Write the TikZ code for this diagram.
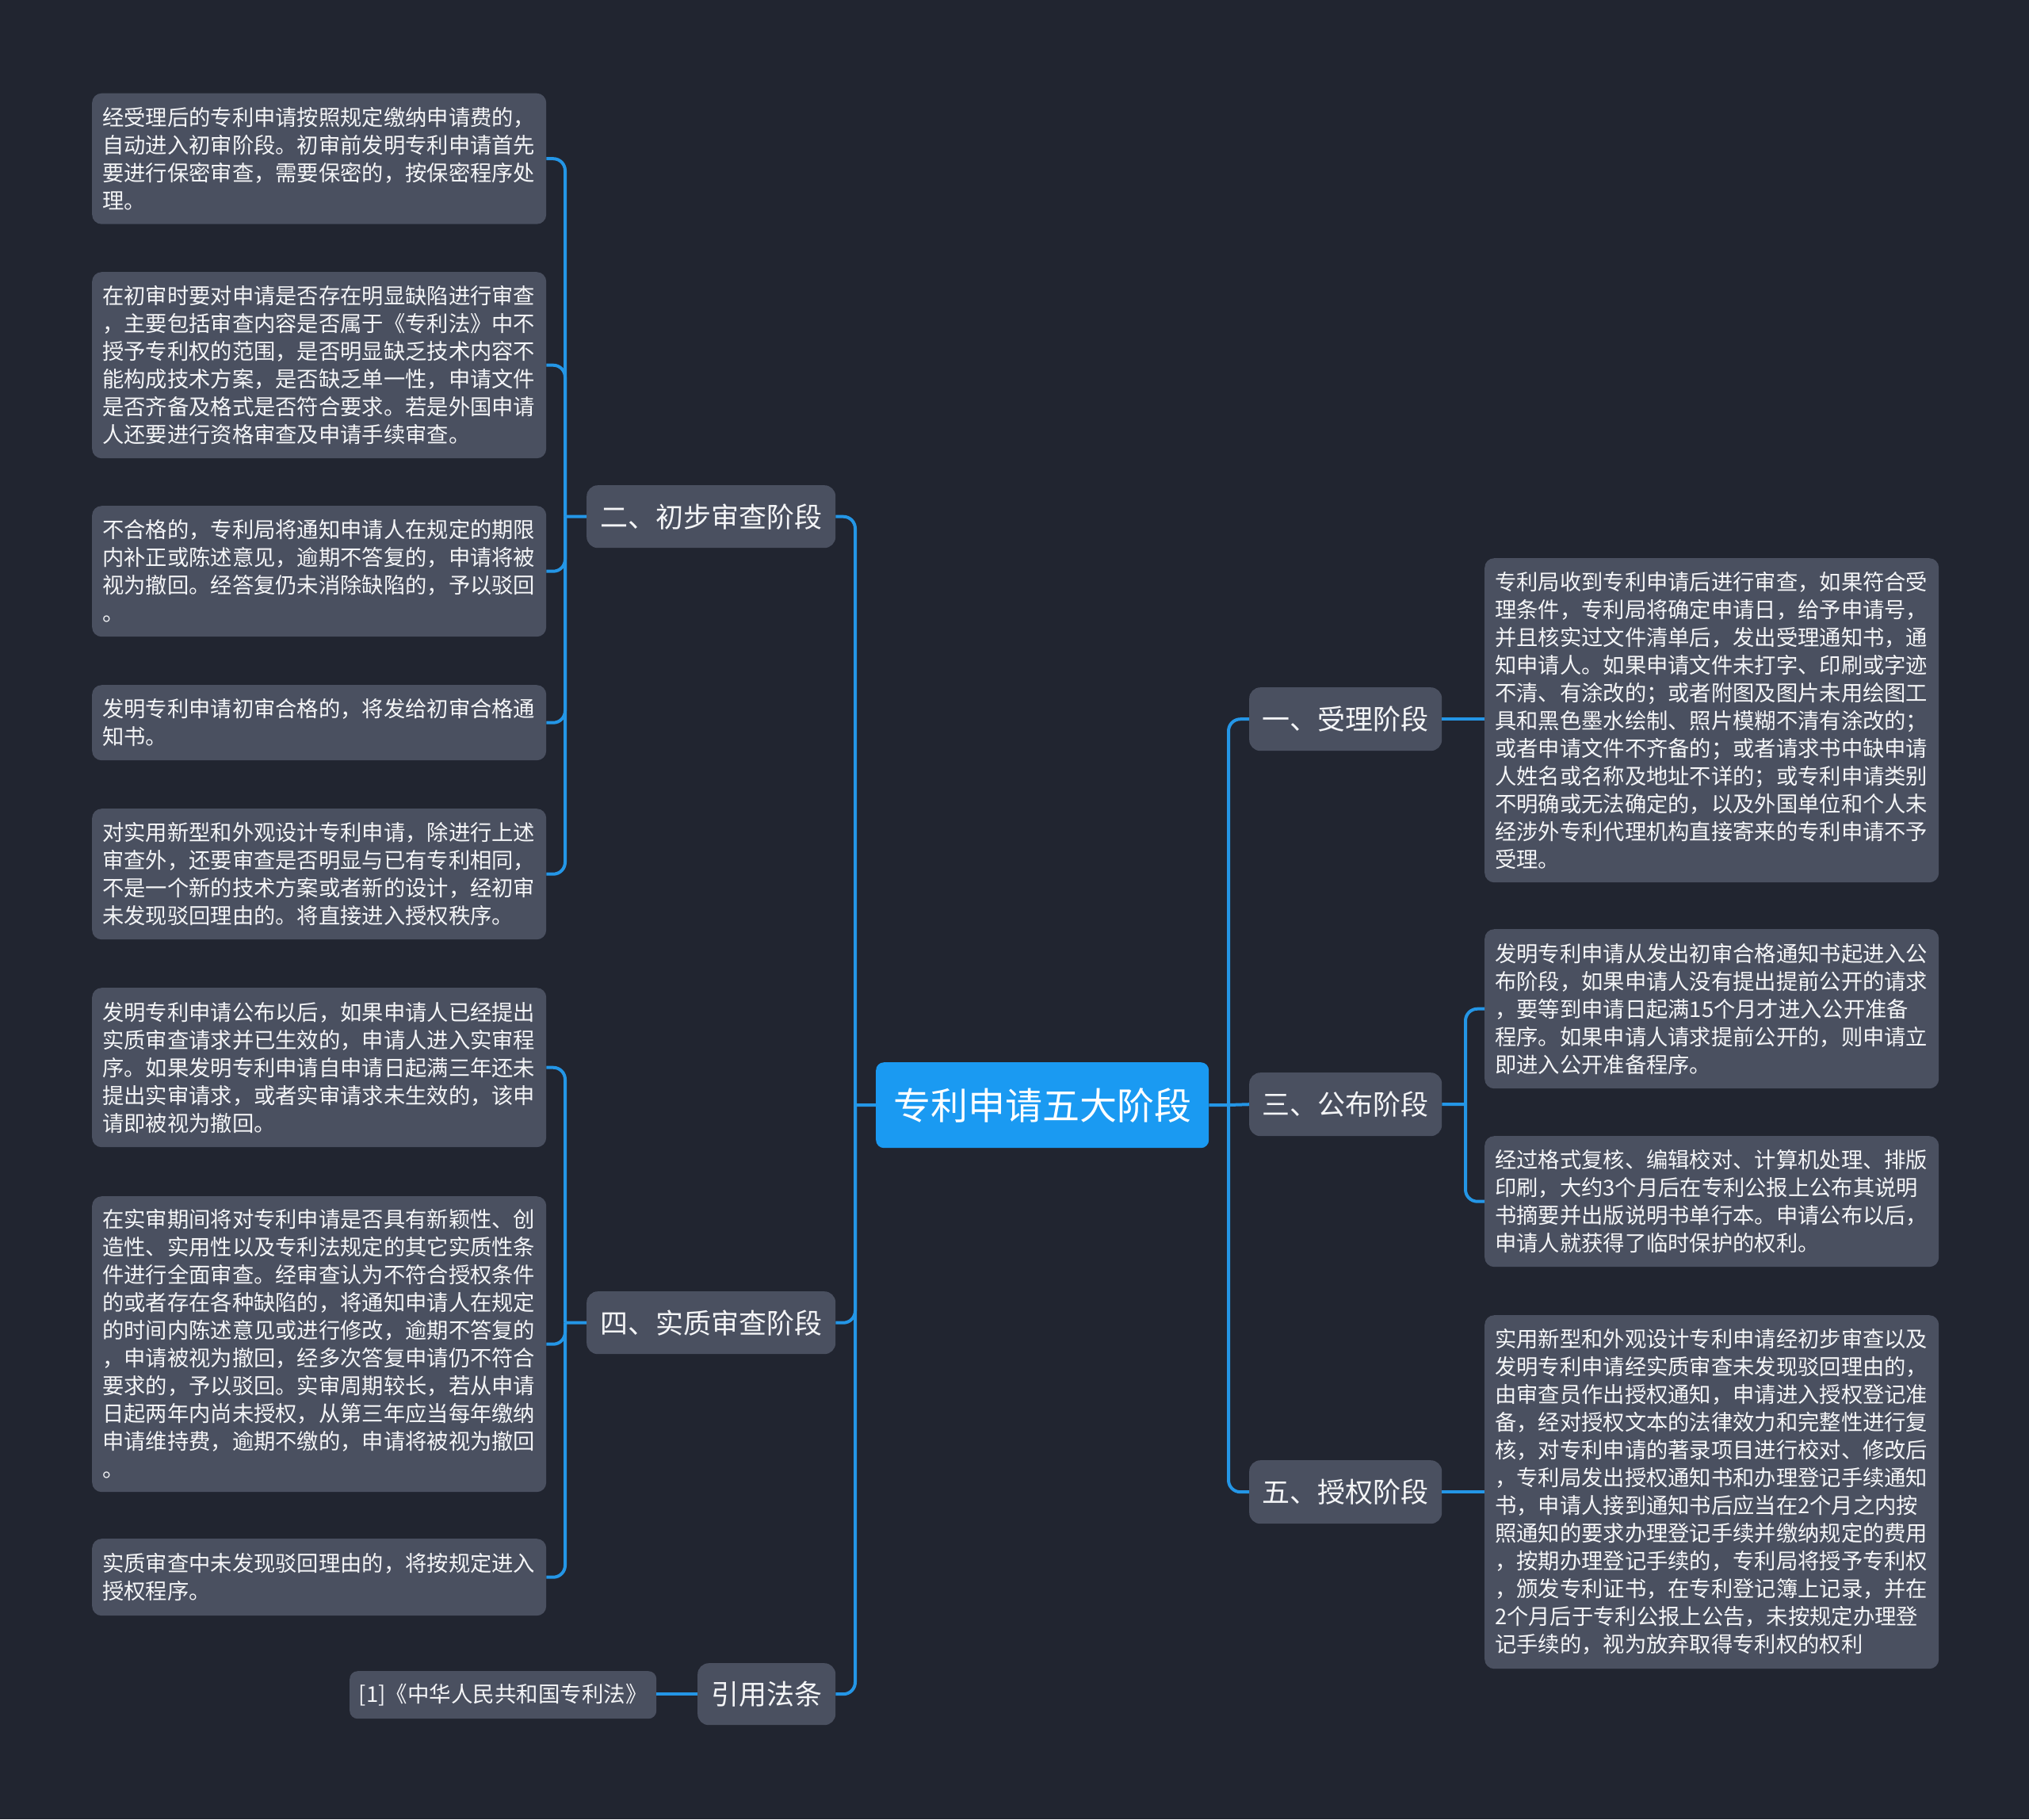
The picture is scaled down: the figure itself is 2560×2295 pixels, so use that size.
\documentclass[tikz,border=0pt]{standalone}
\usepackage{fontspec}
\setmainfont{Noto Sans CJK SC}
\definecolor{bg}{HTML}{212530}
\definecolor{nodegray}{HTML}{4A5060}
\definecolor{lineblue}{HTML}{2496E6}
\definecolor{rootblue}{HTML}{1A9AF2}
\definecolor{txt}{HTML}{F4F5F7}
\tikzset{
  leaf/.style={fill=nodegray, rounded corners=12pt, text=txt, anchor=north west,
    inner xsep=13pt, inner ysep=0pt, text width=547pt, align=left,
    minimum width=571pt, font=\fontsize{27.3}{35}\selectfont},
  topic/.style={fill=nodegray, rounded corners=14pt, text=txt, anchor=north west,
    inner sep=0pt, minimum height=79pt, font=\fontsize{35}{40}\selectfont},
  rootnode/.style={fill=rootblue, rounded corners=10pt, text=white, anchor=north west,
    inner sep=0pt, minimum width=420pt, minimum height=108pt, font=\fontsize{47}{52}\selectfont},
  refnode/.style={fill=nodegray, rounded corners=10pt, text=txt, anchor=north west,
    inner sep=0pt, minimum width=387pt, minimum height=60pt, font=\fontsize{27.5}{32}\selectfont},
  conn/.style={draw=lineblue, line width=4pt, rounded corners=15pt},
  stub/.style={draw=lineblue, line width=4pt}
}
\begin{document}
\begin{tikzpicture}[x=1pt,y=-1pt]
\path[fill=bg] (0,0) rectangle (2560,2295);
\useasboundingbox (0,0) rectangle (2560,2295);

% root
\node[rootnode] (root) at (1105,1340) {专利申请五大阶段};

% first level
\node[topic, minimum width=314pt] (n2) at (740,612) {二、初步审查阶段};
\node[topic, minimum width=314pt] (n4) at (740,1629) {四、实质审查阶段};
\node[topic, minimum width=174pt, minimum height=78pt] (nref) at (880,2098) {引用法条};
\node[topic, minimum width=243pt, minimum height=80pt] (n1) at (1576,867) {一、受理阶段};
\node[topic, minimum width=243pt, minimum height=80pt] (n3) at (1576,1353) {三、公布阶段};
\node[topic, minimum width=243pt, minimum height=80pt] (n5) at (1576,1842) {五、授权阶段};

% left leaves
\node[leaf, minimum height=165pt] (l1) at (116,117.5) {经受理后的专利申请按照规定缴纳申请费的，\\自动进入初审阶段。初审前发明专利申请首先\\要进行保密审查，需要保密的，按保密程序处\\理。};
\node[leaf, minimum height=235pt] (l2) at (116,343) {在初审时要对申请是否存在明显缺陷进行审查\\，主要包括审查内容是否属于《专利法》中不\\授予专利权的范围，是否明显缺乏技术内容不\\能构成技术方案，是否缺乏单一性，申请文件\\是否齐备及格式是否符合要求。若是外国申请\\人还要进行资格审查及申请手续审查。};
\node[leaf, minimum height=165pt] (l3) at (116,638) {不合格的，专利局将通知申请人在规定的期限\\内补正或陈述意见，逾期不答复的，申请将被\\视为撤回。经答复仍未消除缺陷的，予以驳回\\。};
\node[leaf, minimum height=95pt] (l4) at (116,864) {发明专利申请初审合格的，将发给初审合格通\\知书。};
\node[leaf, minimum height=165pt] (l5) at (116,1020) {对实用新型和外观设计专利申请，除进行上述\\审查外，还要审查是否明显与已有专利相同，\\不是一个新的技术方案或者新的设计，经初审\\未发现驳回理由的。将直接进入授权秩序。};
\node[leaf, minimum height=201pt] (l6) at (116,1246) {发明专利申请公布以后，如果申请人已经提出\\实质审查请求并已生效的，申请人进入实审程\\序。如果发明专利申请自申请日起满三年还未\\提出实审请求，或者实审请求未生效的，该申\\请即被视为撤回。};
\node[leaf, minimum height=373pt] (l7) at (116,1509) {在实审期间将对专利申请是否具有新颖性、创\\造性、实用性以及专利法规定的其它实质性条\\件进行全面审查。经审查认为不符合授权条件\\的或者存在各种缺陷的，将通知申请人在规定\\的时间内陈述意见或进行修改，逾期不答复的\\，申请被视为撤回，经多次答复申请仍不符合\\要求的，予以驳回。实审周期较长，若从申请\\日起两年内尚未授权，从第三年应当每年缴纳\\申请维持费，逾期不缴的，申请将被视为撤回\\。};
\node[leaf, minimum height=97pt] (l8) at (116,1941) {实质审查中未发现驳回理由的，将按规定进入\\授权程序。};
\node[refnode] (ref) at (441,2108) {[1]《中华人民共和国专利法》};

% right leaves
\node[leaf, minimum height=409pt] (r1) at (1873,704) {专利局收到专利申请后进行审查，如果符合受\\理条件，专利局将确定申请日，给予申请号，\\并且核实过文件清单后，发出受理通知书，通\\知申请人。如果申请文件未打字、印刷或字迹\\不清、有涂改的；或者附图及图片未用绘图工\\具和黑色墨水绘制、照片模糊不清有涂改的；\\或者申请文件不齐备的；或者请求书中缺申请\\人姓名或名称及地址不详的；或专利申请类别\\不明确或无法确定的，以及外国单位和个人未\\经涉外专利代理机构直接寄来的专利申请不予\\受理。};
\node[leaf, minimum height=201pt] (r2) at (1873,1172) {发明专利申请从发出初审合格通知书起进入公\\布阶段，如果申请人没有提出提前公开的请求\\，要等到申请日起满15个月才进入公开准备\\程序。如果申请人请求提前公开的，则申请立\\即进入公开准备程序。};
\node[leaf, minimum height=165pt] (r3) at (1873,1433) {经过格式复核、编辑校对、计算机处理、排版\\印刷，大约3个月后在专利公报上公布其说明\\书摘要并出版说明书单行本。申请公布以后，\\申请人就获得了临时保护的权利。};
\node[leaf, minimum height=446pt] (r4) at (1873,1659) {实用新型和外观设计专利申请经初步审查以及\\发明专利申请经实质审查未发现驳回理由的，\\由审查员作出授权通知，申请进入授权登记准\\备，经对授权文本的法律效力和完整性进行复\\核，对专利申请的著录项目进行校对、修改后\\，专利局发出授权通知书和办理登记手续通知\\书，申请人接到通知书后应当在2个月之内按\\照通知的要求办理登记手续并缴纳规定的费用\\，按期办理登记手续的，专利局将授予专利权\\，颁发专利证书，在专利登记簿上记录，并在\\2个月后于专利公报上公告，未按规定办理登\\记手续的，视为放弃取得专利权的权利};

% junction coordinates
\coordinate (tl) at (1079,1394);
\coordinate (tr) at (1550,1394);
\coordinate (j2) at (713,651.5);
\coordinate (j4) at (713,1668.5);
\coordinate (j3) at (1849,1393);

% root connectors
\draw[stub] (root.west) -- (tl);
\draw[stub] (root.east) -- (tr);
\draw[conn] (tl) |- (n2.east);
\draw[conn] (tl) |- (n4.east);
\draw[conn] (tl) |- (nref.east);
\draw[conn] (tr) |- (n1.west);
\draw[conn] (tr) |- (n5.west);
\draw[stub] (tr) -- (n3.west);

% 二 branch
\draw[stub] (n2.west) -- (j2);
\foreach \l in {l1,l2,l3,l4,l5} \draw[conn] (j2) |- (\l.east);
% 四 branch
\draw[stub] (n4.west) -- (j4);
\foreach \l in {l6,l7,l8} \draw[conn] (j4) |- (\l.east);
% ref
\draw[stub] (nref.west) -- (ref.east |- nref.west);
% right branches
\draw[stub] (n1.east) -- (r1.west |- n1.east);
\draw[stub] (n3.east) -- (j3);
\draw[conn] (j3) |- (r2.west);
\draw[conn] (j3) |- (r3.west);
\draw[stub] (n5.east) -- (r4.west |- n5.east);
\end{tikzpicture}
\end{document}
